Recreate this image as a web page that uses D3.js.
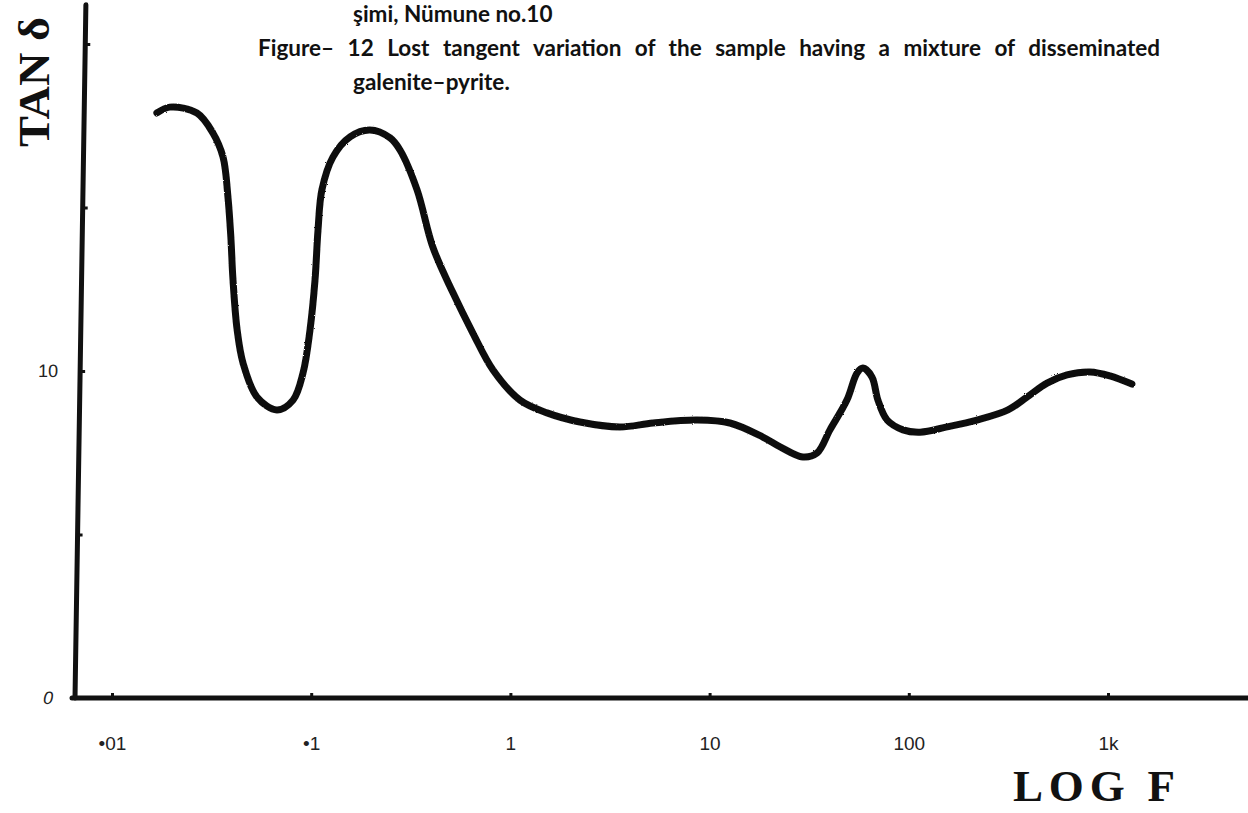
<!DOCTYPE html>
<html>
<head>
<meta charset="utf-8">
<script src="https://cdn.jsdelivr.net/npm/d3@7"></script>
<style>
  html, body { margin: 0; padding: 0; background: #fff; }
  svg { display: block; }
  .cap { font-family: Lato, "Open Sans", sans-serif; font-weight: 700; font-size: 22.5px; fill: #111; }
  .big { font-family: "Liberation Serif", "DejaVu Serif", serif; font-weight: 700; fill: #111; }
</style>
</head>
<body>
<svg id="chart"></svg>
<script>
let W = 1248, H = 813

// frequency (Hz) and loss tangent
let freq = [0.0168, 0.0195, 0.0267, 0.0321, 0.0361, 0.0382, 0.0395, 0.0405, 0.0425, 0.0455,
            0.0535, 0.0673, 0.0811, 0.091, 0.0986, 0.1045, 0.1082, 0.1132, 0.1285, 0.1567,
            0.197, 0.249, 0.279, 0.34, 0.408, 0.515, 0.648, 0.818, 1.117,
            1.527, 2.236, 3.548, 5.2, 8.65, 12.65, 18.5, 22.6, 29.4, 34.6,
            40.2, 48.9, 55.0, 58.9, 65.3, 70.0, 77.8, 93.5, 113.8, 155.6,
            219.8, 314.8, 391.7, 494.3, 622.3, 812.8, 1023, 1318]
let tand = [17.89, 18.07, 17.89, 17.28, 16.54, 15.32, 14.10, 12.78, 11.25, 10.24,
            9.20, 8.81, 9.11, 9.94, 11.25, 12.78, 14.31, 15.54, 16.54, 17.16,
            17.37, 17.13, 16.76, 15.54, 13.79, 12.39, 11.16, 10.03, 9.11,
            8.72, 8.44, 8.29, 8.41, 8.50, 8.41, 7.98, 7.68, 7.37, 7.49,
            8.20, 9.11, 9.94, 10.09, 9.82, 9.11, 8.50, 8.20, 8.13, 8.29,
            8.50, 8.81, 9.20, 9.63, 9.88, 9.97, 9.85, 9.60]

let xTicks = [0.01, 0.1, 1, 10, 100, 1000]
let xTickLabels = ['\u202201', '\u20221', '1', '10', '100', '1k']
let yTicks = [0, 5, 10, 15, 20]
let yTickLabels = ['0', '', '10', '', '']

let caption = [
  'şimi, Nümune no.10',
  'Figure\u2013 12 Lost tangent variation of the sample having a mixture of disseminated',
  'galenite\u2013pyrite.'
]

let svg = d3.select('#chart').attr('width', W).attr('height', H)

let x = d3.scaleLog().domain([0.01, 1000]).range([112, 1108])
let y = d3.scaleLinear().domain([0, 20]).range([698, 44])

// rough, scanned-ink look
let defs = svg.append('defs')
let f = defs.append('filter').attr('id', 'ink').attr('x', '-5%').attr('y', '-5%').attr('width', '110%').attr('height', '110%')
f.append('feTurbulence').attr('type', 'fractalNoise').attr('baseFrequency', 0.9).attr('numOctaves', 1).attr('result', 'n')
f.append('feDisplacementMap').attr('in', 'SourceGraphic').attr('in2', 'n').attr('scale', 2.2)

// x axis
let xAxis = svg.append('g')
  .attr('transform', `translate(0,${y(0)})`)
  .call(d3.axisBottom(x).tickValues(xTicks)
    .tickFormat((d, i) => xTickLabels[i])
    .tickSizeInner(-5).tickSizeOuter(0).tickPadding(39))
xAxis.select('.domain')
  .attr('d', `M${x(x.invert(72))},0H${x(x.invert(W))}`)
  .attr('stroke', '#111').attr('stroke-width', 5).attr('stroke-linecap', 'round')
xAxis.selectAll('.tick line').attr('stroke', '#111').attr('stroke-width', 3)
xAxis.selectAll('.tick text')
  .attr('font-family', '"Liberation Sans", "DejaVu Sans", sans-serif')
  .attr('font-size', 19).attr('fill', '#222')

// y axis, slightly slanted like the hand drawing
let x0 = 75
let yAxis = svg.append('g')
  .attr('transform', `translate(${x0},${y(0)}) skewX(-0.9) translate(0,${-y(0)})`)
  .call(d3.axisLeft(y).tickValues(yTicks)
    .tickFormat((d, i) => yTickLabels[i])
    .tickSizeInner(-5).tickSizeOuter(0).tickPadding(22))
yAxis.select('.domain')
  .attr('d', `M0,${y(0)}V${y(21.2)}`)
  .attr('stroke', '#111').attr('stroke-width', 5).attr('stroke-linecap', 'round')
yAxis.selectAll('.tick line').attr('stroke', '#111').attr('stroke-width', 3)
yAxis.selectAll('.tick text')
  .attr('font-family', '"Liberation Sans", "DejaVu Sans", sans-serif')
  .attr('font-size', 18).attr('fill', '#222')
  .attr('font-style', d => d === 0 ? 'italic' : 'normal')

// the curve
let pts = freq.map((fr, i) => [fr, tand[i]])
let line = d3.line()
  .x(d => x(d[0]))
  .y(d => y(d[1]))
  .curve(d3.curveCatmullRom.alpha(0.5))
svg.append('path')
  .datum(pts)
  .attr('d', line)
  .attr('fill', 'none')
  .attr('stroke', '#111')
  .attr('stroke-width', 7)
  .attr('stroke-linecap', 'round')
  .attr('stroke-linejoin', 'round')
  .attr('filter', 'url(#ink)')

// axis titles
svg.append('text').attr('class', 'big')
  .attr('transform', 'translate(49,147) rotate(-90)')
  .attr('font-size', 44)
  .attr('textLength', 130).attr('lengthAdjust', 'spacingAndGlyphs')
  .text('TAN δ')

svg.append('text').attr('class', 'big')
  .attr('x', 1013).attr('y', 801)
  .attr('font-size', 45)
  .attr('textLength', 162).attr('lengthAdjust', 'spacing')
  .text('LOG F')

// caption, justified second line
let capPos = [[353, 22, null], [258, 56, 902], [353, 90, null]]
caption.forEach((t, i) => {
  let el = svg.append('text').attr('class', 'cap')
    .attr('x', capPos[i][0]).attr('y', capPos[i][1])
    .text(t)
  if (capPos[i][2]) {
    let len = el.node().getComputedTextLength()
    let gaps = t.split(' ').length - 1
    el.attr('word-spacing', (capPos[i][2] - len) / gaps)
  }
})
</script>
</body>
</html>
